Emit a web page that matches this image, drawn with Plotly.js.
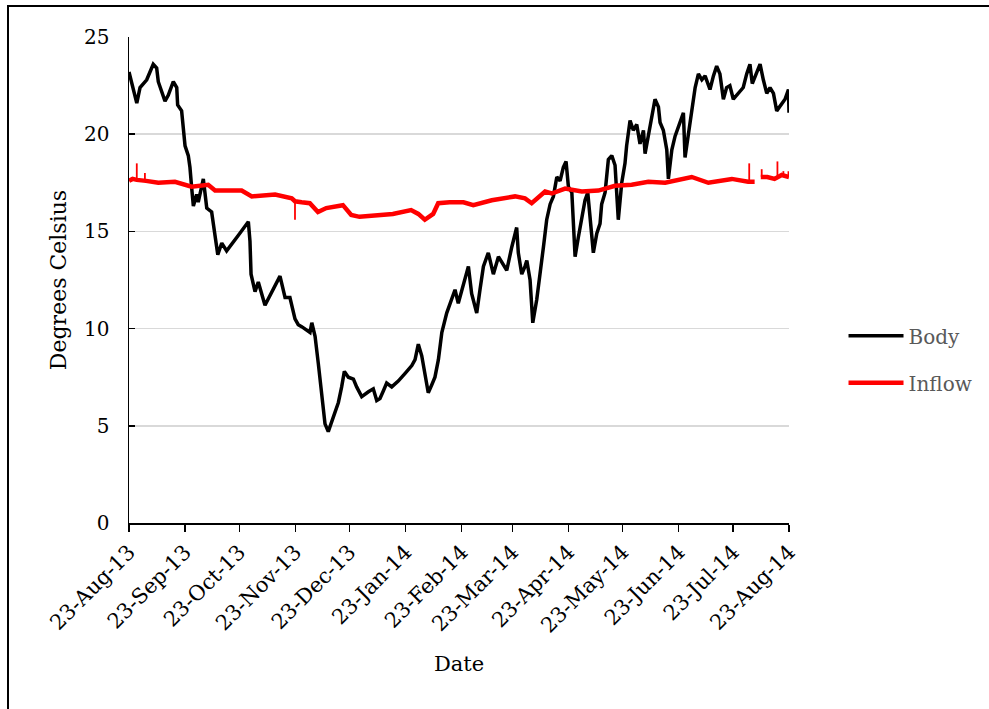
<!DOCTYPE html>
<html>
<head>
<meta charset="utf-8">
<script src="https://cdn.plot.ly/plotly-3.0.1.min.js"></script>
<style>
  html, body { margin: 0; padding: 0; background: #ffffff; }
  #wrap { position: relative; width: 989px; height: 709px; overflow: hidden; }
  #chart { position: absolute; left: 0; top: 0; width: 989px; height: 709px; }
  #frame {
    position: absolute; left: 7px; top: 5px; width: 1200px; height: 900px;
    border-left: 2px solid #000; border-top: 2px solid #000;
    pointer-events: none; z-index: 5;
  }
</style>
</head>
<body>
<div id="wrap">
  <div id="chart"></div>
  <div id="frame"></div>
</div>
<script>
// Water temperature logger, 23 Aug 2013 - 23 Aug 2014.
// Times are given as days after 23-Aug-13.

const bodyDays = [
  0, 4.3, 6.1, 9.8, 13.4, 15.3, 16.2, 19.9, 21.7, 24.5, 26.4, 26.9, 29.1, 30.0, 31.0,
  32.8, 33.7, 34.7, 35.6, 37.4, 38.3, 41.1, 43.0, 45.7, 47.6, 49.1, 51.3, 54.0, 60.5,
  66.0, 66.9, 67.5, 69.7, 71.5, 75.2, 78.9, 83.5, 86.3, 89.0, 91.8, 93.6, 95.5, 100.1,
  101.1, 102.9, 104.7, 106.6, 108.4, 110.2, 113.0, 115.8, 117.6, 119.1, 121.3, 124.1,
  125.9, 128.7, 132.4, 135.1, 137.0, 138.8, 140.7, 142.5, 145.3, 148.9, 152.7, 156.4,
  158.2, 160.0, 161.9, 163.7, 165.5, 167.4, 169.2, 171.1, 173.0, 175.7, 178.5, 180.3,
  182.1, 184.0, 187.7, 189.5, 192.3, 194.1, 196.0, 198.7, 201.5, 204.3, 206.1, 208.9,
  211.7, 214.4, 215.3, 217.2, 219.0, 220.0, 221.8, 223.3, 225.5, 227.3, 229.2, 231.0,
  232.9, 234.7, 236.6, 238.4, 240.2, 241.7, 243.0, 244.9, 246.7, 248.5, 250.4, 252.2,
  253.7, 255.0, 256.8, 258.7, 260.5, 261.4, 263.3, 265.1, 267.0, 268.8, 270.6, 272.5,
  274.3, 275.2, 277.1, 278.9, 280.8, 282.6, 284.5, 285.4, 287.2, 289.1, 290.9, 292.8,
  293.7, 295.5, 297.4, 298.3, 300.2, 302.0, 304.8, 306.6, 307.5, 309.4, 311.2, 313.1,
  314.9, 316.8, 318.6, 321.3, 323.2, 325.0, 326.8, 328.7, 330.5, 332.3, 334.2, 337.0,
  339.7, 341.6, 343.4, 344.7, 347.1, 349.0, 350.8, 352.7, 354.5, 356.4, 358.2, 361.0,
  362.8, 364.7, 365.0
];
const bodyTemp = [
  23.2, 21.6, 22.4, 22.8, 23.6, 23.4, 22.7, 21.7, 22.0, 22.7, 22.4, 21.5, 21.2, 20.1, 19.4,
  18.9, 18.3, 17.2, 16.3, 16.9, 16.5, 17.7, 16.2, 16.0, 14.8, 13.8, 14.4, 14.0, 14.8,
  15.5, 14.5, 12.8, 11.9, 12.4, 11.2, 11.9, 12.7, 11.6, 11.6, 10.5, 10.2, 10.1, 9.8,
  10.3, 9.6, 8.2, 6.5, 5.1, 4.7, 5.5, 6.2, 7.0, 7.8, 7.5, 7.4,
  7.0, 6.5, 6.75, 6.9, 6.3, 6.4, 6.8, 7.2, 7.0, 7.3, 7.7, 8.1,
  8.4, 9.2, 8.6, 7.5, 6.7, 7.1, 7.5, 8.4, 9.8, 10.8, 11.5, 12.0,
  11.3, 12.0, 13.2, 11.8, 10.8, 12.0, 13.2, 13.9, 12.8, 13.7, 13.4, 13.0,
  14.2, 15.2, 13.9, 12.8, 13.2, 13.5, 12.5, 10.3, 11.5, 12.7, 14.2, 15.6,
  16.4, 16.8, 17.8, 17.6, 18.3, 18.6, 17.3, 17.0, 13.7, 14.7, 15.6, 16.6,
  17.0, 15.8, 13.9, 14.9, 15.4, 16.4, 17.0, 18.7, 18.9, 18.4, 15.6, 17.5,
  18.5, 19.4, 20.7, 20.2, 20.5, 19.5, 20.2, 19.0, 20.0, 20.9, 21.8, 21.4,
  20.6, 20.2, 19.2, 17.7, 19.2, 19.9, 20.7, 21.1, 18.8, 20.0, 21.2, 22.4,
  23.1, 22.8, 23.0, 22.3, 23.0, 23.5, 23.1, 21.8, 22.4, 22.5, 21.8, 22.1,
  22.4, 23.1, 23.6, 22.6, 23.1, 23.6, 22.8, 22.1, 22.4, 22.1, 21.2, 21.6,
  21.8, 22.3, 21.1
];

// Inflow baseline; null marks the short logging gap
const inflowDays = [
  0, 2.0, 4.3, 8.0, 9.4, 16.2, 25.4, 34.6, 43.8, 47.6, 62.3, 67.9, 80.8,
  90.0, 91.8, 95.5, 100.0, 104.5, 109.1, 118.3, 122.9, 127.5, 136.7, 145.9,
  156.0, 160.0, 163.6, 168.2, 171.0, 177.3, 185.0, 190.4, 200.6, 213.5, 219.0, 222.7,
  230.1, 233.8, 241.2, 250.4, 259.6, 268.8, 278.0, 287.2, 296.5, 311.2, 320.4, 333.4,
  342.4, 346.0, 347.5, 349.4, 353.0, 357.0, 361.0, 365.0
];
const inflowTemp = [
  17.6, 17.7, 17.65, 17.65, 17.6, 17.5, 17.55, 17.3, 17.4, 17.1, 17.1, 16.8, 16.9,
  16.7, 16.55, 16.5, 16.45, 16.0, 16.2, 16.35, 15.85, 15.75, 15.85, 15.9,
  16.1, 15.9, 15.6, 15.9, 16.45, 16.5, 16.5, 16.35, 16.6, 16.8, 16.7, 16.45,
  17.05, 16.95, 17.2, 17.05, 17.1, 17.35, 17.4, 17.55, 17.5, 17.8, 17.5, 17.7,
  17.55, 17.55, null, 17.8, 17.8, 17.7, 17.9, 17.8
];

// Short single-reading excursions in the inflow record
const spikeDays = [4.3, 8.8, 91.8, 343.0, 349.9, 358.6, 361.9, 364.7];
const spikeBase = [17.65, 17.65, 16.55, 17.55, 17.8, 17.75, 17.9, 17.85];
const spikeTop  = [18.5, 18.0, 15.6, 18.5, 18.2, 18.6, 18.1, 18.1];

const tickDates = [
  '2013-08-23', '2013-09-23', '2013-10-23', '2013-11-23', '2013-12-23', '2014-01-23',
  '2014-02-23', '2014-03-23', '2014-04-23', '2014-05-23', '2014-06-23', '2014-07-23',
  '2014-08-23'
];

const startMs = Date.UTC(2013, 7, 23);
function pad(n) { return String(n).padStart(2, '0'); }
function dayToDate(d) {
  const t = new Date(startMs + d * 86400000);
  return t.getUTCFullYear() + '-' + pad(t.getUTCMonth() + 1) + '-' + pad(t.getUTCDate()) +
    ' ' + pad(t.getUTCHours()) + ':' + pad(t.getUTCMinutes());
}

// vertical segments for the spikes, separated by nulls
const spikeX = [], spikeY = [];
spikeDays.forEach((d, i) => {
  spikeX.push(dayToDate(d), dayToDate(d), null);
  spikeY.push(spikeBase[i], spikeTop[i], null);
});

const FONT = 'DejaVu Serif, Liberation Serif, serif';

const traces = [
  {
    name: 'Body', x: bodyDays.map(dayToDate), y: bodyTemp, type: 'scatter', mode: 'lines',
    line: { color: '#000000', width: 3.5 }, legendgroup: 'a', legendrank: 1
  },
  {
    name: 'Inflow', x: inflowDays.map(dayToDate), y: inflowTemp, type: 'scatter', mode: 'lines',
    line: { color: '#ff0000', width: 4.5 }, connectgaps: false, legendgroup: 'b', legendrank: 2
  },
  {
    name: 'Inflow', x: spikeX, y: spikeY, type: 'scatter', mode: 'lines',
    line: { color: '#ff0000', width: 1.8 }, connectgaps: false, legendgroup: 'b',
    showlegend: false
  }
];

const layout = {
  width: 989, height: 709,
  margin: { l: 129, r: 200, t: 37, b: 186, autoexpand: false },
  paper_bgcolor: '#ffffff', plot_bgcolor: '#ffffff',
  font: { family: FONT, color: '#000000', size: 20 },
  showlegend: true,
  legend: {
    x: 1.0826, xanchor: 'left', y: 0.337, yanchor: 'middle',
    font: { family: FONT, size: 20, color: '#595959' },
    itemwidth: 55,
    tracegroupgap: 18, bgcolor: 'rgba(0,0,0,0)'
  },
  xaxis: {
    type: 'date', range: ['2013-08-23', '2014-08-23'],
    tickvals: tickDates, tickformat: '%d-%b-%y', tickangle: -45,
    ticks: 'outside', ticklen: 7, tickwidth: 1.5, tickcolor: '#000000',
    showline: true, linecolor: '#000000', linewidth: 1.5,
    showgrid: false, zeroline: false,
    tickfont: { family: FONT, size: 21, color: '#000000' },
    title: { text: 'Date', font: { family: FONT, size: 21, color: '#000000' }, standoff: 20 }
  },
  yaxis: {
    range: [0, 25], tickvals: [0, 5, 10, 15, 20, 25],
    ticks: 'inside', ticklen: 6, tickwidth: 1.5, tickcolor: '#000000',
    showline: true, linecolor: '#000000', linewidth: 1.5,
    showgrid: true, gridcolor: '#d9d9d9', gridwidth: 1.5, zeroline: false,
    ticklabelstandoff: 14,
    tickfont: { family: FONT, size: 20, color: '#000000' },
    title: { text: 'Degrees Celsius', font: { family: FONT, size: 22, color: '#000000' }, standoff: 11 }
  }
};

Plotly.newPlot('chart', traces, layout, { displayModeBar: false, staticPlot: true });
</script>
</body>
</html>
